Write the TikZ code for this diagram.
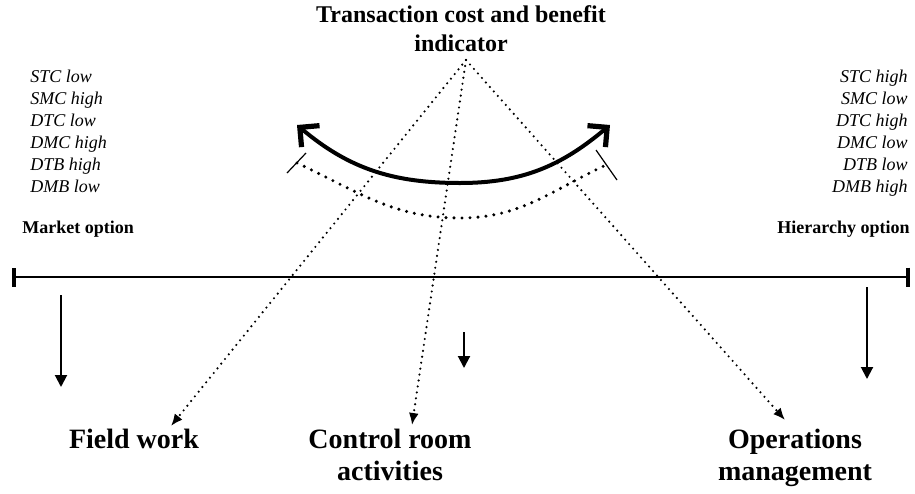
\documentclass[tikz,border=0pt]{standalone}
\usepackage{fontspec}
\setmainfont{Liberation Serif}
\usetikzlibrary{arrows.meta, positioning, calc}

\tikzset{barb/.tip={Straight Barb[length=7pt,width=14pt,line width=2.6pt,line join=miter,line cap=butt]}}

\begin{document}
\begin{tikzpicture}[x=0.5pt, y=-0.5pt,
        cost/.style={font=\fontsize{9}{11}\selectfont\itshape, inner sep=0pt},
        opt/.style={font=\fontsize{9}{11}\selectfont\bfseries, inner sep=0pt},
        actv/.style={font=\fontsize{14}{16}\selectfont\bfseries, align=center, inner sep=0pt},
        drop/.style={draw, line width=1pt, -{Triangle[length=6pt,width=6pt]}},
        link/.style={draw, line width=1.2pt, line cap=round, dash pattern=on 0pt off 3pt,
            -{Latex[length=6pt,width=5pt]}}
        ]

        \useasboundingbox (0,0) rectangle (915,493);

        %% Indicator title
        \node[font=\fontsize{12}{14.5}\selectfont\bfseries, align=center, inner sep=0pt,
            anchor=north] (title) at (461,5) {Transaction cost and benefit\\indicator};

        %% Cost lists at both ends
        \node[cost, align=left, anchor=north west] (mktcost) at (30,70)
            {STC low\\SMC high\\DTC low\\DMC high\\DTB high\\DMB low};
        \node[cost, align=right, anchor=north east] (hiercost) at (908,70)
            {STC high\\SMC low\\DTC high\\DMC low\\DTB low\\DMB high};
        \node[opt, anchor=west] (mkt) at (22,229) {Market option};
        \node[opt, anchor=east] (hier) at (910,229) {Hierarchy option};

        %% Scale line
        \coordinate (scaleL) at (12,277);
        \coordinate (scaleR) at (910,277);
        \draw[line width=0.7pt, {Bar[width=9.5pt,line width=2pt]}-{Bar[width=9.5pt,line width=2pt]}]
            (scaleL) -- (scaleR);

        %% Trade-off curves
        \coordinate (solidL) at (297,125);
        \coordinate (solidB) at (460,183);
        \coordinate (solidR) at (610,125);
        \draw[line width=2pt, {barb}-{barb}]
            (solidL) to[out=-40,in=180] (solidB) to[out=0,in=-140] (solidR);

        \coordinate (dotL) at (297,163);
        \coordinate (dotB) at (460,218);
        \coordinate (dotR) at (606,165);
        \draw[line width=1.7pt, line cap=round, dash pattern=on 0pt off 4pt]
            (dotL) to[out=-25,in=180] (dotB) to[out=0,in=-155] (dotR);
        \draw[line width=0.6pt] ($(dotL)+(-10,10)$) -- ($(dotL)+(9,-10)$);
        \draw[line width=0.6pt] ($(dotR)+(-10,-15)$) -- ($(dotR)+(11,15)$);

        %% Activities
        \node[actv, anchor=base] (field) at (134,448) {Field work};
        \node[actv, anchor=base] (ctrl) at (390,480) {Control room\\activities};
        \node[actv, anchor=base] (ops) at (795,480) {Operations\\management};

        %% Dotted links from the indicator
        \coordinate (apex) at (466,60);
        \coordinate (fieldtip) at (171,426);
        \coordinate (ctrltip) at (412,425);
        \coordinate (opstip) at (785,420);
        \draw[link] (apex) -- (fieldtip);
        \draw[link] (apex) -- (ctrltip);
        \draw[link] (apex) -- (opstip);

        %% Drops below the scale
        \coordinate (dropL1) at (61,295);
        \coordinate (dropL2) at (61,387);
        \coordinate (dropM1) at (464,332);
        \coordinate (dropM2) at (464,368);
        \coordinate (dropR1) at (867,287);
        \coordinate (dropR2) at (867,379);
        \draw[drop] (dropL1) -- (dropL2);
        \draw[drop] (dropM1) -- (dropM2);
        \draw[drop] (dropR1) -- (dropR2);

    \end{tikzpicture}
\end{document}
